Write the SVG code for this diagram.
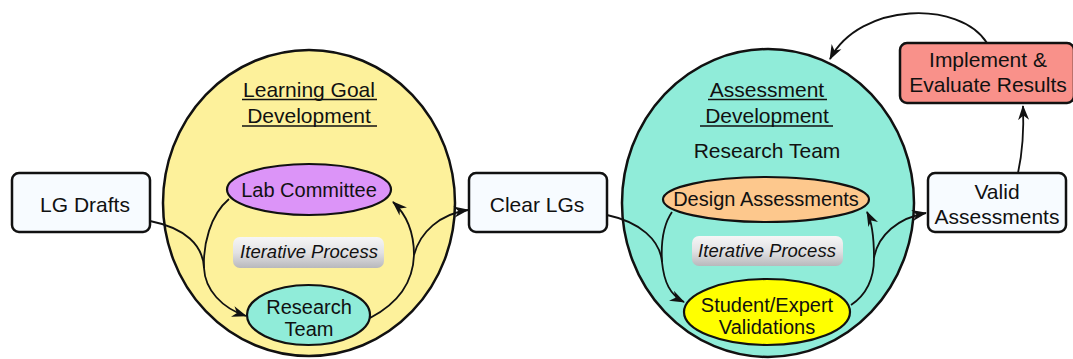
<svg xmlns="http://www.w3.org/2000/svg" width="1073" height="359" viewBox="0 0 1073 359">
<defs>
<style>
text{font-family:"Liberation Sans",Arial,sans-serif;font-size:21px;fill:#111;text-anchor:middle}
.in{font-size:20px}
.it{font-style:italic;font-size:18.5px}
.box{fill:#f7fbff;stroke:#111;stroke-width:2.5}
.big{stroke:#111;stroke-width:2.5}
.small{stroke:#111;stroke-width:2.2}
.ul{stroke:#111;stroke-width:1.5}
.con{fill:none;stroke:#111;stroke-width:1.8}
.arr{marker-end:url(#ah)}
.ip{fill:url(#g);stroke:none}
</style>
<linearGradient id="g" x1="0" y1="0" x2="0" y2="1">
<stop offset="0" stop-color="#f6f6f6"/>
<stop offset="0.5" stop-color="#e2e2e4"/>
<stop offset="1" stop-color="#b8b8bc"/>
</linearGradient>
<marker id="ah" markerWidth="16" markerHeight="12" refX="14" refY="6" orient="auto" markerUnits="userSpaceOnUse">
<path d="M0,0.5 L15,6 L0,11.5 L4.5,6 Z" fill="#111"/>
</marker>
</defs>

<g id="lg-development">
<ellipse cx="309" cy="203" rx="146" ry="153" fill="#fdf19b" class="big"/>
<text x="309" y="97">Learning Goal</text>
<line x1="242" y1="99.5" x2="377" y2="99.5" class="ul"/>
<text x="309" y="123">Development </text>
<line x1="242" y1="126" x2="377" y2="126" class="ul"/>
</g>

<g id="assessment-development">
<ellipse cx="768" cy="203" rx="146" ry="154" fill="#90ecd9" class="big"/>
<text x="767" y="97">Assessment</text>
<line x1="708" y1="99.5" x2="827" y2="99.5" class="ul"/>
<text x="767" y="123">Development </text>
<line x1="700" y1="126" x2="833" y2="126" class="ul"/>
<text x="767" y="158">Research Team</text>
</g>

<g id="connectors">
<path class="con arr" d="M150,221 C185,228 203,245 204,268 C205,290 222,308 246,316"/>
<path class="con" d="M229,199 C210,215 203,245 204,268"/>
<path class="con" d="M370,318 C395,305 413,285 414,255"/>
<path class="con arr" d="M414,255 C414,232 406,214 393,202"/>
<path class="con arr" d="M414,255 C420,232 440,214 468,210"/>

<path class="con arr" d="M607,215 C640,222 660,240 662,262 C664,282 670,295 684,302"/>
<path class="con" d="M672,212 C663,225 661,245 662,262"/>
<path class="con" d="M851,305 C866,295 874,280 874,258"/>
<path class="con arr" d="M874,258 C874,238 872,222 867,212"/>
<path class="con arr" d="M874,258 C878,235 898,218 926,213"/>

<path class="con arr" d="M1018,173 C1023,150 1024,130 1023,106"/>
<path class="con arr" d="M987,43 C960,0 860,2 830,59"/>
</g>

<g id="lg-drafts">
<rect x="12" y="173" width="138" height="59" rx="7" class="box"/>
<text x="85" y="212">LG Drafts</text>
</g>

<g id="lab-committee">
<ellipse cx="309" cy="189.5" rx="82" ry="25.5" fill="#dc94f8" class="small"/>
<text x="309" y="197" class="in">Lab Committee</text>
</g>

<g id="iterative-left">
<rect x="233" y="237" width="151" height="31" rx="7" class="ip"/>
<text x="309" y="258" class="it">Iterative Process</text>
</g>

<g id="research-team">
<ellipse cx="308.5" cy="315" rx="61.5" ry="30" fill="#90ecd9" class="small"/>
<text x="309" y="314" class="in">Research</text>
<text x="309" y="336" class="in">Team</text>
</g>

<g id="clear-lgs">
<rect x="469" y="173" width="138" height="59" rx="7" class="box"/>
<text x="537" y="212">Clear LGs</text>
</g>

<g id="design-assessments">
<ellipse cx="766" cy="199.5" rx="103" ry="22.5" fill="#fdc88d" class="small"/>
<text x="766" y="206" class="in">Design Assessments</text>
</g>

<g id="iterative-right">
<rect x="692" y="236" width="151" height="30" rx="7" class="ip"/>
<text x="767" y="257" class="it">Iterative Process</text>
</g>

<g id="student-expert">
<ellipse cx="767" cy="312" rx="83" ry="33" fill="#ffff00" class="small"/>
<text x="767" y="312" class="in">Student/Expert</text>
<text x="767" y="334" class="in">Validations</text>
</g>

<g id="valid-assessments">
<rect x="928" y="173" width="138" height="59" rx="7" class="box"/>
<text x="997" y="199">Valid</text>
<text x="997" y="224">Assessments</text>
</g>

<g id="implement">
<rect x="900" y="43" width="174" height="60" rx="7" fill="#f9918a" stroke="#111" stroke-width="2.5"/>
<text x="988" y="67">Implement &amp;</text>
<text x="988" y="92">Evaluate Results</text>
</g>
</svg>
